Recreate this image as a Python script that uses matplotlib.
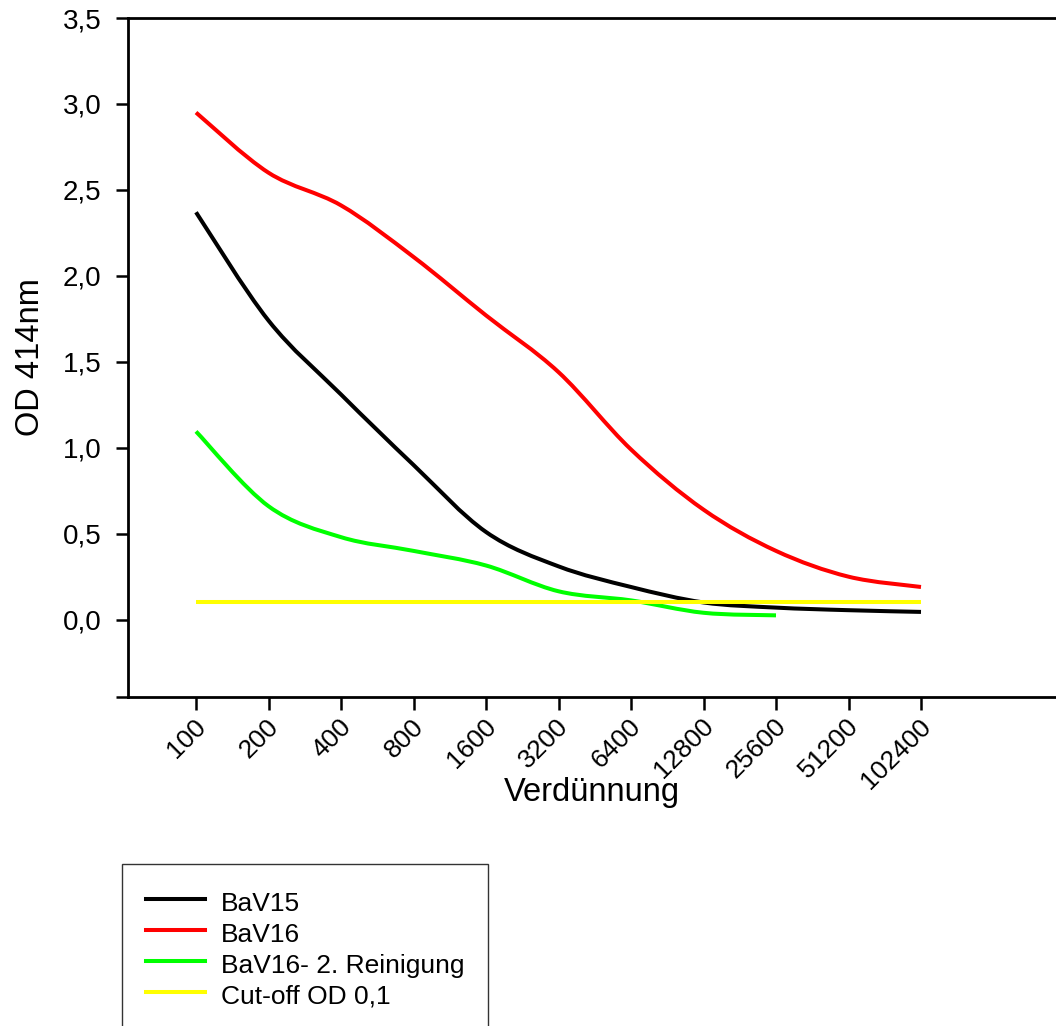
import numpy as np
import matplotlib
matplotlib.use('Agg')
import matplotlib.pyplot as plt
import matplotlib.transforms as mtransforms
from matplotlib.path import Path
from matplotlib.patches import PathPatch
from matplotlib.lines import Line2D

plt.rcParams['font.family'] = ['Liberation Sans', 'DejaVu Sans']

# Verduennungsreihe, OD bei 414 nm
dilution = ['100', '200', '400', '800', '1600', '3200', '6400',
            '12800', '25600', '51200', '102400']
bav15 = [2.37, 1.74, 1.31, 0.90, 0.51, 0.31, 0.19, 0.10, 0.07, 0.055, 0.045]
bav16 = [2.95, 2.60, 2.41, 2.11, 1.77, 1.44, 0.99, 0.64, 0.40, 0.25, 0.19]
bav16_r2 = [1.095, 0.66, 0.48, 0.40, 0.315, 0.165, 0.112, 0.04, 0.025]
cutoff = 0.1

yticks = [0.0, 0.5, 1.0, 1.5, 2.0, 2.5, 3.0, 3.5]
ytick_labels = ['0,0', '0,5', '1,0', '1,5', '2,0', '2,5', '3,0', '3,5']


def smooth_path(x, y):
    '''
    catmull-rom spline as bezier path through the points
    '''
    pts = np.column_stack([x, y]).astype(float)
    ext = np.vstack([pts[0], pts, pts[-1]])
    verts = [tuple(pts[0])]
    codes = [Path.MOVETO]
    for i in range(1, len(ext) - 2):
        p0, p1, p2, p3 = ext[i - 1], ext[i], ext[i + 1], ext[i + 2]
        c1 = p1 + (p2 - p0) / 6.0
        c2 = p2 - (p3 - p1) / 6.0
        verts += [tuple(c1), tuple(c2), tuple(p2)]
        codes += [Path.CURVE4] * 3
    return Path(verts, codes)


fig = plt.figure(figsize=(10.56, 10.26), dpi=100)
W, H = 1056.0, 1026.0
ax = fig.add_axes([128 / W, 1 - 697 / H, (1066 - 128) / W, (697 - 18) / H])

xpos = np.arange(1, len(dilution) + 1)
series = [(bav15, 'black', 'BaV15'),
          (bav16, '#ff0000', 'BaV16'),
          (bav16_r2, '#00ff00', 'BaV16- 2. Reinigung')]
handles = []
for vals, col, lab in series:
    p = smooth_path(xpos[:len(vals)], vals)
    ax.add_patch(PathPatch(p, fill=False, edgecolor=col, lw=2.9,
                           capstyle='butt', transform=ax.transData))
    handles.append(Line2D([], [], color=col, lw=2.9, label=lab))

ax.plot([xpos[0], xpos[-1]], [cutoff, cutoff], color='#ffff00', lw=2.9,
        solid_capstyle='butt')
handles.append(Line2D([], [], color='#ffff00', lw=2.9, label='Cut-off OD 0,1'))

ax.set_xlim(0.062, 13)
ax.set_ylim(-0.45, 3.5)

ax.set_yticks([-0.45] + yticks)
ax.set_yticklabels([''] + ytick_labels, fontsize=20)
ax.set_xticks(xpos)
ax.set_xticklabels(dilution, fontsize=19, rotation=45, ha='right',
                   va='center', rotation_mode='anchor')
ax.tick_params(axis='both', direction='out', length=9, width=1.8, pad=10)
ax.tick_params(axis='x', pad=16)
# shift rotated labels a little up/right
shift = mtransforms.ScaledTranslation(0.06, 0.09, fig.dpi_scale_trans)
for lbl in ax.get_xticklabels():
    lbl.set_transform(lbl.get_transform() + shift)

for s in ['left', 'bottom', 'top']:
    ax.spines[s].set_linewidth(2.0)
ax.spines['right'].set_visible(False)

ax.set_xlabel('Verdünnung', fontsize=23.5)
ax.set_ylabel('OD 414nm', fontsize=23.5)
ax.xaxis.set_label_coords(0.495, -(777 - 697) / 679.0, transform=ax.transAxes)
ax.yaxis.set_label_coords(-(128 - 46) / 938.0, 0.5, transform=ax.transAxes)

leg = fig.legend(handles=handles, loc='upper left',
                 bbox_to_anchor=(122 / W, 1 - 864 / H), fontsize=19,
                 handlelength=2.25, handletextpad=0.6, labelspacing=0.12,
                 handleheight=1.25, borderpad=0.9, borderaxespad=0,
                 fancybox=False)
leg.get_frame().set_edgecolor('black')
leg.get_frame().set_linewidth(1.0)

fig.savefig('out.png', dpi=100)
